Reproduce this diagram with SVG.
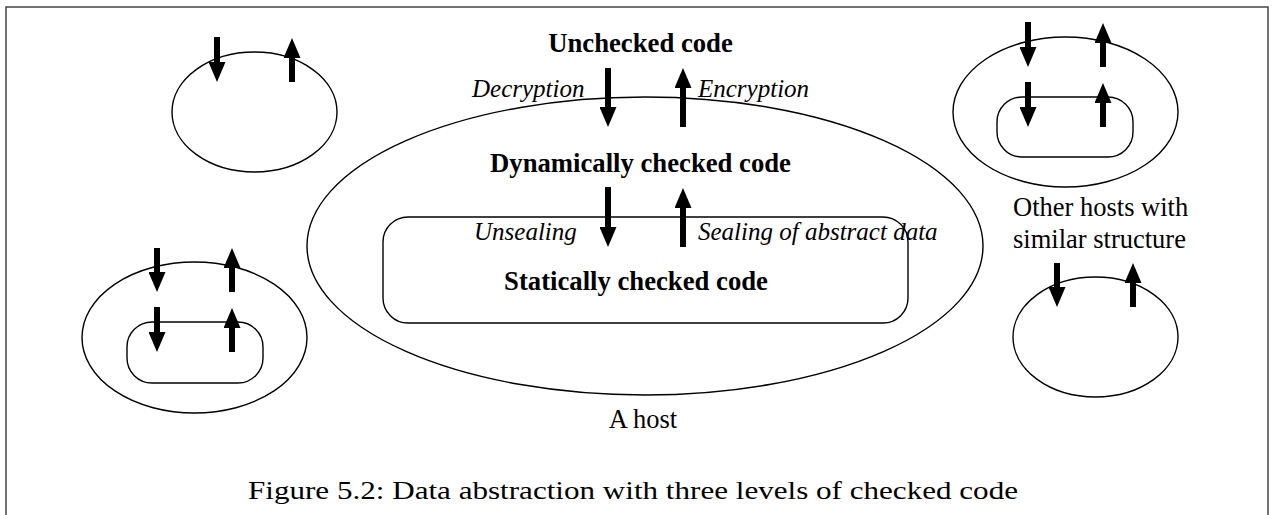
<svg xmlns="http://www.w3.org/2000/svg" width="1275" height="515" viewBox="0 0 1275 515">
<style>
.sh{fill:none;stroke:#000;stroke-width:1.4}
.ar{stroke:#000;stroke-width:6;fill:none;marker-end:url(#head)}
.b{font-family:"Liberation Serif","Times New Roman",serif;font-weight:bold;font-size:26.7px;fill:#000;text-anchor:middle}
.i{font-family:"Liberation Serif","Times New Roman",serif;font-style:italic;font-size:25px;fill:#000}
.r{font-family:"Liberation Serif","Times New Roman",serif;font-size:26.5px;fill:#000}
.cap{font-family:"Liberation Serif","Times New Roman",serif;font-size:26px;fill:#000}
</style>
<defs>
<marker id="head" markerUnits="userSpaceOnUse" markerWidth="20" markerHeight="17" viewBox="0 0 20 17" refX="2" refY="8.5" orient="auto">
<path d="M0,0 L20,8.5 L0,17 Z" fill="#000"/>
</marker>
</defs>
<rect width="1275" height="515" fill="#fff"/>
<path d="M6,515 V7 H1268 V515" fill="none" stroke="#444" stroke-width="1.5"/>

<g id="host-main">
<ellipse class="sh" cx="645" cy="246" rx="338" ry="149"/>
<text class="b" x="640.5" y="172">Dynamically checked code</text>
<text class="r" x="643" y="428" text-anchor="middle">A host</text>
</g>
<g id="static-box">
<rect class="sh" x="383" y="217" width="525" height="106" rx="25" ry="25"/>
<text class="b" x="636" y="290">Statically checked code</text>
</g>
<g id="unchecked">
<text class="b" x="640.5" y="52">Unchecked code</text>
</g>
<g id="host-top-left">
<ellipse class="sh" cx="254.5" cy="112" rx="82.5" ry="60"/>
</g>
<g id="host-top-right">
<ellipse class="sh" cx="1065.5" cy="112" rx="112.5" ry="75"/>
<rect class="sh" x="997" y="97" width="136" height="60" rx="25" ry="25"/>
</g>
<g id="host-bottom-left">
<ellipse class="sh" cx="194.5" cy="337.5" rx="112.5" ry="75.5"/>
<rect class="sh" x="127" y="322" width="136" height="61" rx="25" ry="25"/>
</g>
<g id="host-bottom-right">
<ellipse class="sh" cx="1095.5" cy="337" rx="82.5" ry="60"/>
<text class="r" x="1013" y="216">Other hosts with</text>
<text class="r" x="1013" y="248">similar structure</text>
</g>

<g id="connectors">
<line class="ar" x1="608" y1="68" x2="608" y2="109"/>
<line class="ar" x1="683" y1="127" x2="683" y2="86"/>
<line class="ar" x1="608" y1="187" x2="608" y2="229"/>
<line class="ar" x1="683" y1="247" x2="683" y2="206"/>
<line class="ar" x1="217" y1="37" x2="217" y2="64"/>
<line class="ar" x1="292" y1="82" x2="292" y2="56"/>
<line class="ar" x1="1028" y1="22" x2="1028" y2="49"/>
<line class="ar" x1="1103" y1="67" x2="1103" y2="41"/>
<line class="ar" x1="1028" y1="82" x2="1028" y2="109"/>
<line class="ar" x1="1103" y1="127" x2="1103" y2="101"/>
<line class="ar" x1="157" y1="248" x2="157" y2="274"/>
<line class="ar" x1="232" y1="292" x2="232" y2="266"/>
<line class="ar" x1="157" y1="307" x2="157" y2="334"/>
<line class="ar" x1="232" y1="352" x2="232" y2="326"/>
<line class="ar" x1="1057" y1="263" x2="1057" y2="289"/>
<line class="ar" x1="1133" y1="307" x2="1133" y2="281"/>
<text class="i" x="472" y="97">Decryption</text>
<text class="i" x="698" y="97">Encryption</text>
<text class="i" x="474" y="240">Unsealing</text>
<text class="i" x="698" y="240">Sealing of abstract data</text>
</g>

<text class="cap" x="248" y="499" textLength="770" lengthAdjust="spacingAndGlyphs">Figure 5.2: Data abstraction with three levels of checked code</text>
</svg>
